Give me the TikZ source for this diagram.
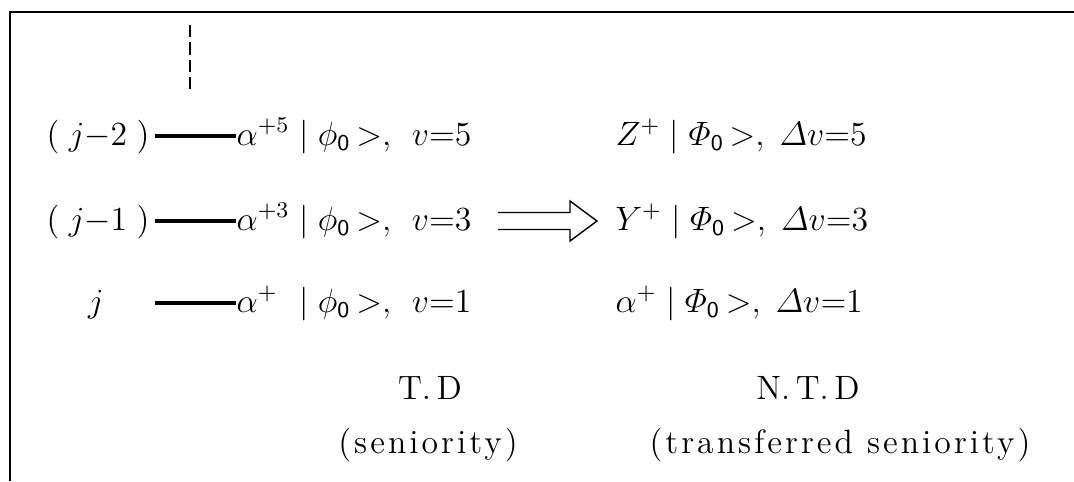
\documentclass[tikz,border=0pt]{standalone}
\usepackage{amsmath}
\usepackage{fontspec}
\usetikzlibrary{positioning}

\newfontfamily\spacedfont{lmroman12-regular.otf}[LetterSpace=9]

\begin{document}
\begin{tikzpicture}[
    x=0.0125cm, y=-0.0125cm,
    frame/.style={line width=0.9pt},
    level/.style={line width=1.3pt},
    lvl/.style={inner sep=0pt, font=\fontsize{12}{14}\selectfont},
    state/.style={inner sep=0pt, font=\fontsize{12}{14}\selectfont},
    caption/.style={inner sep=0pt, font=\fontsize{12}{14}\selectfont},
    spaced/.style={inner sep=0pt, font=\spacedfont\fontsize{12}{14}\selectfont},
    bigarrow/.style={line width=0.5pt, line join=miter}
]
    \useasboundingbox (0,0) rectangle (1074,481);

    % Frame (top and left only)
    \draw[frame] (1074,12) -- (10,12) -- (10,481);

    % Higher levels
    \coordinate (dashtop) at (190,25);
    \coordinate (dashbot) at (190,90);
    \draw[line width=0.6pt, dash pattern=on 4.3pt off 1.9pt] (dashtop) -- (dashbot);

    % Levels
    \node[lvl, anchor=base east] (lvA) at (150,145) {$(\;j{-}2\;)$};
    \node[lvl, anchor=base east] (lvB) at (150,230) {$(\;j{-}1\;)$};
    \node[lvl, anchor=base] (lvC) at (96,312) {$j$};

    \coordinate (lnA) at (155,136);
    \coordinate (lnB) at (155,221);
    \coordinate (lnC) at (155,303);

    % Seniority states
    \node[state, anchor=base west] (stA) at (236,145)
        {$\alpha^{+5}\;|\;\phi_{\mathsf{0}}\,{>},\;\,v{=}5$};
    \node[state, anchor=base west] (stB) at (236,230)
        {$\alpha^{+3}\;|\;\phi_{\mathsf{0}}\,{>},\;\,v{=}3$};
    \node[state, anchor=base west] (stC) at (236,312)
        {$\alpha^{+\phantom{5}}\;|\;\phi_{\mathsf{0}}\,{>},\;\,v{=}1$};

    \draw[level] (lnA) -- (lnA -| stA.west);
    \draw[level] (lnB) -- (lnB -| stB.west);
    \draw[level] (lnC) -- (lnC -| stC.west);

    % Transferred seniority states
    \node[state, anchor=base west] (ntA) at (615,145)
        {$Z^{+}\;|\;\varPhi_{\mathsf{0}}\,{>},\;\varDelta v{=}5$};
    \node[state, anchor=base west] (ntB) at (615,230)
        {$Y^{+}\;|\;\varPhi_{\mathsf{0}}\,{>},\;\varDelta v{=}3$};
    \node[state, anchor=base west] (ntC) at (615,312)
        {$\alpha^{+}\;|\;\varPhi_{\mathsf{0}}\,{>},\;\varDelta v{=}1$};

    % Open double arrow
    \coordinate (arrA) at (498,221);
    \coordinate (arrB) at (597,221);
    \draw[bigarrow] (arrA) ++(0,-8.5) -- ++(72,0) -- ++(0,-11.5) -- (arrB)
        -- ++(-27,20) -- ++(0,-11.5) -- ++(-72,0);

    % Captions
    \node[caption] (tdA) at (430,388) {T.\,D};
    \node[spaced] (tdB) at (428,445) {(seniority)};
    \node[caption] (ntdA) at (808,388) {N.\,T.\,D};
    \node[spaced] (ntdB) at (840,445) {(transferred seniority)};
\end{tikzpicture}
\end{document}
